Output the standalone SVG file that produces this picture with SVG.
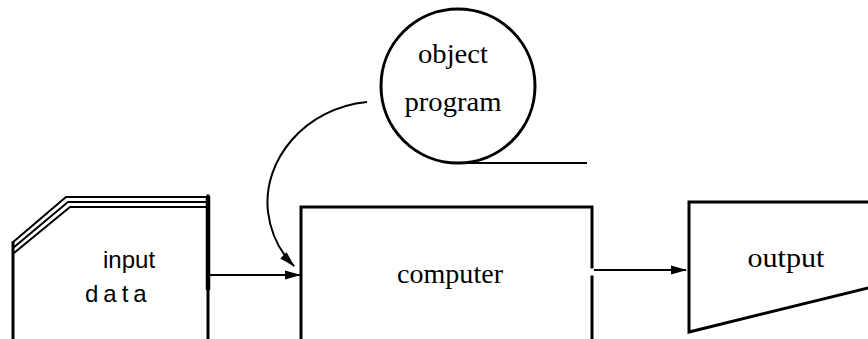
<svg xmlns="http://www.w3.org/2000/svg" width="868" height="339" viewBox="0 0 868 339">
<style>
.shape{fill:none;stroke:#000;stroke-width:3;stroke-linecap:square}
.thin{fill:none;stroke:#000;stroke-width:2}
.conn{fill:none;stroke:#000;stroke-width:2}
.sans{font-family:"Liberation Sans",Arial,sans-serif;font-size:24px;fill:#000}
.serif{font-family:"Liberation Serif","Times New Roman",serif;font-size:27px;fill:#000}
</style>
<defs>
<marker id="ah" markerWidth="16" markerHeight="10" refX="15" refY="5" orient="auto" markerUnits="userSpaceOnUse">
<path d="M0,0.5 L16,5 L0,9.5 Z" fill="#000"/>
</marker>
</defs>
<rect width="868" height="339" fill="#fff"/>
<g id="input-data">
<path class="shape" d="M13,243 L13,339"/>
<path class="thin" d="M12,243 L66,197 L208,197"/>
<path class="thin" d="M13,248 L68,202 L208,202"/>
<path class="thin" d="M14,253 L70,207 L208,207"/>
<path class="shape" d="M208,196 L208,339"/>
<path d="M208,196 L208,290" stroke="#000" stroke-width="4.5"/>
<text class="sans" x="103" y="268">input</text>
<text class="sans" x="85" y="302" letter-spacing="5">data</text>
</g>
<g id="object-program">
<circle class="shape" cx="458" cy="86" r="77"/>
<path class="thin" d="M458,163 L587,163"/>
<text class="serif" x="453" y="63" text-anchor="middle" textLength="70" lengthAdjust="spacingAndGlyphs">object</text>
<text class="serif" x="453" y="111" text-anchor="middle" textLength="97" lengthAdjust="spacingAndGlyphs">program</text>
</g>
<g id="computer">
<path class="shape" d="M301,339 L301,207 L592,207 L592,267"/>
<path class="shape" d="M592,277 L592,339"/>
<text class="serif" x="450" y="283" text-anchor="middle" textLength="106" lengthAdjust="spacingAndGlyphs">computer</text>
</g>
<g id="output">
<path class="shape" d="M868,202 L689,202 L689,332 L868,288"/>
<text class="serif" x="786" y="267" text-anchor="middle" textLength="77" lengthAdjust="spacingAndGlyphs">output</text>
</g>
<g id="connectors">
<path class="conn" d="M210,275 L300,275" marker-end="url(#ah)"/>
<path class="conn" d="M367,102 C305,108 262,160 268,212 C271,236 280,252 294,266" marker-end="url(#ah)"/>
<path class="conn" d="M594,270 L686,270" marker-end="url(#ah)"/>
</g>
</svg>
